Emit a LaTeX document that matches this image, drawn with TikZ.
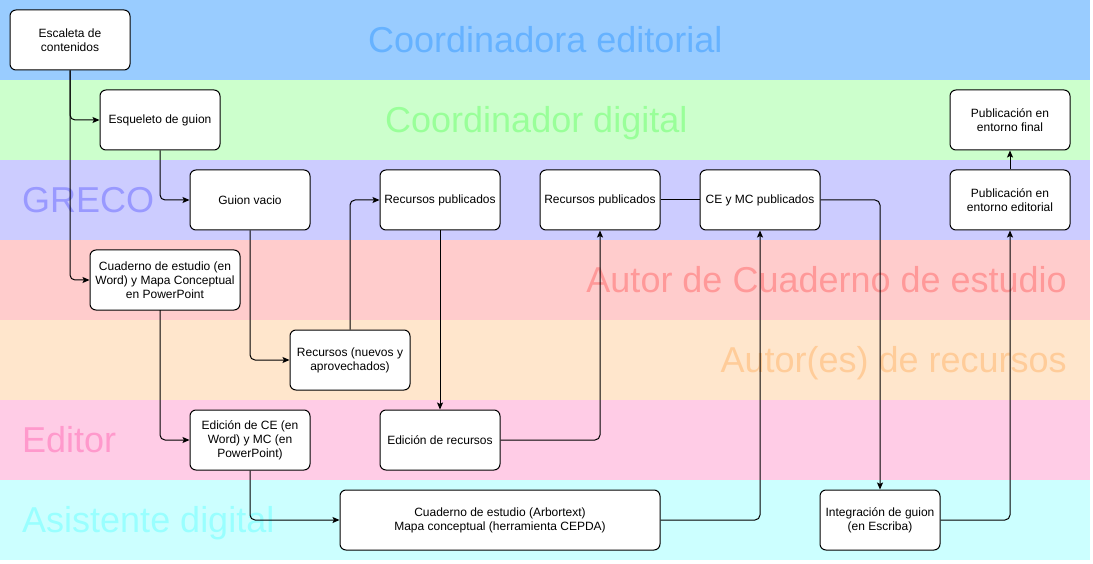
\documentclass[tikz,border=0pt]{standalone}
\usepackage{fontspec}
\setmainfont{Liberation Sans}
\usetikzlibrary{arrows.meta}
\definecolor{bgA}{HTML}{99CCFF}
\definecolor{bgB}{HTML}{CCFFCC}
\definecolor{bgC}{HTML}{CCCCFF}
\definecolor{bgD}{HTML}{FFCCCC}
\definecolor{bgE}{HTML}{FFE6CC}
\definecolor{bgF}{HTML}{FFCCE6}
\definecolor{bgG}{HTML}{CCFFFF}
\definecolor{tA}{HTML}{66B2FF}
\definecolor{tB}{HTML}{99FF99}
\definecolor{tC}{HTML}{9999FF}
\definecolor{tD}{HTML}{FF9999}
\definecolor{tE}{HTML}{FFCC99}
\definecolor{tF}{HTML}{FF99CC}
\definecolor{tG}{HTML}{99FFFF}
\begin{document}
\begin{tikzpicture}[x=1pt,y=-1pt,
  lane/.style={draw=none},
  lanetitle/.style={inner sep=0pt,font=\fontsize{36}{40}\selectfont},
  box/.style={draw=black,fill=white,line width=1pt,rounded corners=6pt,
    minimum width=120pt,minimum height=60pt,inner sep=0pt,align=center,
    font=\fontsize{12}{14}\selectfont},
  link/.style={line width=1pt,rounded corners=5pt},
  arr/.style={link,-{Stealth[length=7pt,width=6pt,inset=1.5pt]}}]
\useasboundingbox (0,0) rectangle (1093,564);
% lanes
\fill[bgA] (0,0) rectangle (1090,80);
\fill[bgB] (0,80) rectangle (1090,160);
\fill[bgC] (0,160) rectangle (1090,240);
\fill[bgD] (0,240) rectangle (1090,320);
\fill[bgE] (0,320) rectangle (1090,400);
\fill[bgF] (0,400) rectangle (1090,480);
\fill[bgG] (0,480) rectangle (1090,560);
% lane titles
\node[lanetitle,text=tA,anchor=base west] (tA) at (368,52.9) {Coordinadora editorial};
\node[lanetitle,text=tB,anchor=base west] (tB) at (385,132.9) {Coordinador digital};
\node[lanetitle,text=tC,anchor=base west] (tC) at (22,212.9) {GRECO};
\node[lanetitle,text=tD,anchor=base east] (tD) at (1067,292.9) {Autor de Cuaderno de estudio};
\node[lanetitle,text=tE,anchor=base east] (tE) at (1067,372.9) {Autor(es) de recursos};
\node[lanetitle,text=tF,anchor=base west] (tF) at (22,452.9) {Editor};
\node[lanetitle,text=tG,anchor=base west] (tG) at (22,532.9) {Asistente digital};
% nodes
\node[box] (esc) at (70,40) {Escaleta de\\contenidos};
\node[box] (esq) at (160,120) {Esqueleto de guion};
\node[box] (gv) at (250,200) {Guion vacio};
\node[box] (rp1) at (440,200) {Recursos publicados};
\node[box] (rp2) at (600,200) {Recursos publicados};
\node[box] (ce) at (760,200) {CE y MC publicados};
\node[box] (pe) at (1010,200) {Publicación en\\entorno editorial};
\node[box] (pf) at (1010,120) {Publicación en\\entorno final};
\node[box,minimum width=150pt] (cw) at (165,280) {Cuaderno de estudio (en\\Word) y Mapa Conceptual\\en PowerPoint};
\node[box] (rec) at (350,360) {Recursos (nuevos y\\aprovechados)};
\node[box] (ece) at (250,440) {Edición de CE (en\\Word) y MC (en\\PowerPoint)};
\node[box] (er) at (440,440) {Edición de recursos};
\node[box,minimum width=320pt] (arb) at (500,520) {Cuaderno de estudio (Arbortext)\\Mapa conceptual (herramienta CEPDA)};
\node[box] (ig) at (880,520) {Integración de guion\\(en Escriba)};
% connectors
\coordinate (cwout) at (160,310);
\draw[arr] (esc.south) |- (esq.west);
\draw[arr] (esc.south) |- (cw.west);
\draw[arr] (esq.south) |- (gv.west);
\draw[arr] (gv.south) |- (rec.west);
\draw[arr] (rec.north) |- (rp1.west);
\draw[arr] (rp1.south) -- (er.north);
\draw[arr] (er.east) -| (rp2.south);
\draw[link] (rp2.east) -- (ce.west);
\draw[arr] (ce.east) -| (ig.north);
\draw[arr] (cwout) |- (ece.west);
\draw[arr] (ece.south) |- (arb.west);
\draw[arr] (arb.east) -| (ce.south);
\draw[arr] (ig.east) -| (pe.south);
\draw[arr] (pe.north) -- (pf.south);
\end{tikzpicture}
\end{document}
